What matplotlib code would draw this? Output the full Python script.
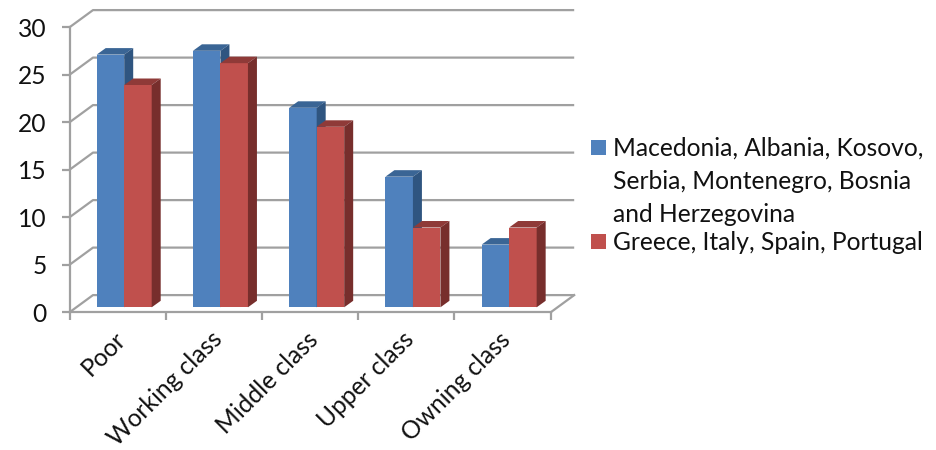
import matplotlib
matplotlib.use("Agg")
import matplotlib.pyplot as plt
from matplotlib.patches import Polygon, Rectangle

categories = ["Poor", "Working class", "Middle class", "Upper class", "Owning class"]
balkans = [26.6, 27.0, 21.0, 13.75, 6.6]
south_europe = [23.4, 25.7, 19.0, 8.4, 8.4]
value_ticks = [0, 5, 10, 15, 20, 25, 30]
series_names = ["Macedonia, Albania, Kosovo,\nSerbia, Montenegro, Bosnia\nand Herzegovina",
                "Greece, Italy, Spain, Portugal"]

# pixel scale of the fake 3D plot
W, H = 936, 450
CAT_PX = 96.24
UNIT_PX = 9.5
X0_PX = 69.5
Y0_PX = 312.3

GRID = "#A0A0A0"
TEXT = "#111111"
BLUE = ("#4F81BD", "#3A6595", "#2F5580")
RED = ("#C0504D", "#8F3A38", "#772E2C")
FS = 17.7

WALL_DX, WALL_DY = 23.5 / CAT_PX, 17.2 / UNIT_PX
BAR_DX, BAR_DY = 9.0 / CAT_PX, 6.5 / UNIT_PX
BAR_W = 27.5 / CAT_PX
BAR_START = 27.2 / CAT_PX
BASE = 5.0 / UNIT_PX

plt.rcParams["font.family"] = ["Lato", "DejaVu Sans"]

fig = plt.figure(figsize=(9.36, 4.5), dpi=100)
ax = fig.add_axes([0, 0, 1, 1])
ax.patch.set_alpha(0)
ax.set_xlim(-X0_PX / CAT_PX, (W - X0_PX) / CAT_PX)
ax.set_ylim(-(H - Y0_PX) / UNIT_PX, Y0_PX / UNIT_PX)

n = len(categories)

# walls
for v in value_ticks:
    ax.plot([0, WALL_DX, n + WALL_DX], [v, v + WALL_DY, v + WALL_DY],
            color=GRID, lw=1.6, zorder=1, solid_capstyle="butt")
ax.plot([n, n + WALL_DX], [0, WALL_DY], color=GRID, lw=1.6, zorder=1)


def draw_bar(x, value, cols, z):
    top = BASE + value
    ax.bar(x, value, BAR_W, bottom=BASE, align="edge", color=cols[0], lw=0, zorder=z)
    ax.add_patch(Polygon([(x, top), (x + BAR_DX, top + BAR_DY),
                          (x + BAR_W + BAR_DX, top + BAR_DY), (x + BAR_W, top)],
                         closed=True, fc=cols[1], lw=0, zorder=z))
    ax.add_patch(Polygon([(x + BAR_W, BASE), (x + BAR_W + BAR_DX, BASE + BAR_DY),
                          (x + BAR_W + BAR_DX, top + BAR_DY), (x + BAR_W, top)],
                         closed=True, fc=cols[2], lw=0, zorder=z))


for i in range(n):
    draw_bar(i + BAR_START, balkans[i], BLUE, 2)
    draw_bar(i + BAR_START + BAR_W, south_europe[i], RED, 3)

# axes
for side in ["top", "right"]:
    ax.spines[side].set_visible(False)
ax.spines["left"].set_position(("data", 0))
ax.spines["bottom"].set_position(("data", 0))
ax.spines["left"].set_bounds(0, 30)
ax.spines["bottom"].set_bounds(0, n)
for side in ["left", "bottom"]:
    ax.spines[side].set_color(GRID)
    ax.spines[side].set_linewidth(1.6)
    ax.spines[side].set_zorder(4)

ax.set_yticks(value_ticks)
ax.tick_params(axis="y", length=5.5, width=1.6, color=GRID, labelsize=FS, pad=11, labelcolor=TEXT)
ax.set_xticks(range(n + 1))
ax.tick_params(axis="x", which="major", length=5.5, width=1.6, color=GRID, labelbottom=False)
ax.set_xticks([i + 0.46 for i in range(n)], minor=True)
ax.set_xticklabels(categories, minor=True, rotation=45, ha="right", va="top",
                   rotation_mode="anchor", fontsize=FS, color=TEXT)
ax.tick_params(axis="x", which="minor", length=0, pad=11)

# legend, placed by hand because the swatch sits on the first line of the label
swatch_tops = [140, 234]
label_tops = [137, 231]
for name, col, sw, lab in zip(series_names, [BLUE[0], RED[0]], swatch_tops, label_tops):
    fig.add_artist(Rectangle((591 / W, 1 - (sw + 15) / H), 15 / W, 15 / H,
                             transform=fig.transFigure, fc=col, lw=0))
    fig.text(613 / W, 1 - lab / H, name, ha="left", va="top", fontsize=FS,
             color=TEXT, linespacing=1.52)

fig.savefig("out.png", dpi=100)
